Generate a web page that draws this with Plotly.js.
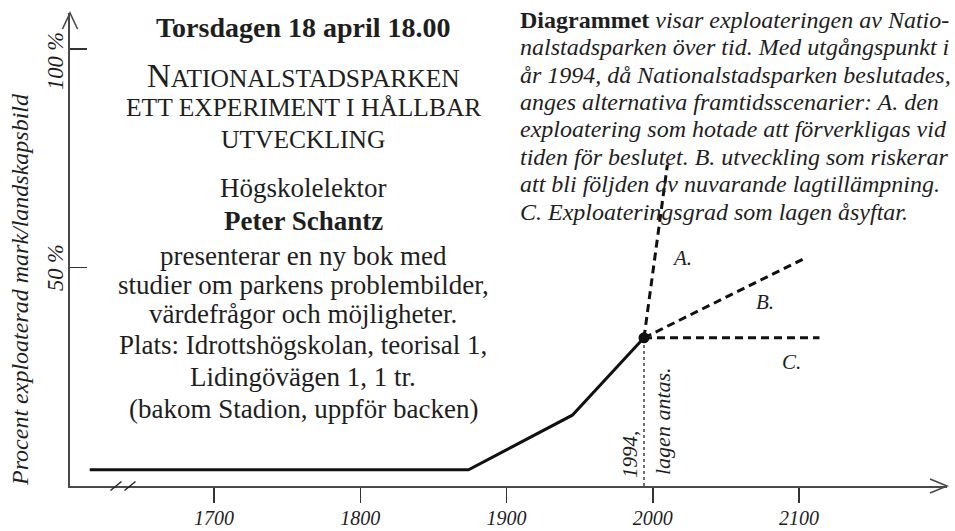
<!DOCTYPE html>
<html><head><meta charset="utf-8">
<script src="https://cdn.plot.ly/plotly-3.0.1.min.js"></script>
<style>html,body{margin:0;padding:0;background:#fff}</style>
</head><body><div id="chart" style="width:955px;height:531px"></div>
<script>
// ---- data ----
const histYears = [1615, 1874, 1945, 1994];
const histValues = [3.7, 3.7, 16.2, 33.9];
const scenA_years = [1994, 2010];
const scenA_values = [33.9, 73.5];
const scenB_years = [1994, 2104];
const scenB_values = [33.9, 52.1];
const scenC_years = [1994, 2114];
const scenC_values = [33.9, 33.9];
const decisionYears = [1994, 1994];
const decisionValues = [0, 33.9];
const dotYears = [1994];
const dotValues = [33.9];
const xTickVals = [1700, 1800, 1900, 2000, 2100];
const xTickText = ['1700', '1800', '1900', '2000', '2100'];
const yTickVals = [50, 100];
const yTickText = ['50 %', '100 %'];
const scenarioLabels = ['A.', 'B.', 'C.'];

// ---- geometry helpers (pixel -> paper) ----
const W = 955, H = 531, ML = 70, MR = 8, MT = 13, MB = 45;
const PW = W - ML - MR, PH = H - MT - MB;
const px = v => (v - ML) / PW;
const py = v => (H - MB - v) / PH;

const SERIF = '"Liberation Serif", "Times New Roman", serif';
const INK = '#1e1e1e';

const traces = [
  {x: histYears, y: histValues, mode: 'lines', line: {color: '#111', width: 3}, hoverinfo: 'skip'},
  {x: decisionYears, y: decisionValues, mode: 'lines', line: {color: '#111', width: 1.2, dash: 'dot'}, hoverinfo: 'skip'},
  {x: scenA_years, y: scenA_values, mode: 'lines', line: {color: '#111', width: 3, dash: '8px,5px'}, hoverinfo: 'skip'},
  {x: scenB_years, y: scenB_values, mode: 'lines', line: {color: '#111', width: 3, dash: '8px,5px'}, hoverinfo: 'skip'},
  {x: scenC_years, y: scenC_values, mode: 'lines', line: {color: '#111', width: 3, dash: '8px,5px'}, hoverinfo: 'skip'},
  {x: dotYears, y: dotValues, mode: 'markers', marker: {color: '#111', size: 11}, hoverinfo: 'skip'}
];

const ann = [];
function txt(text, xpx, basePx, size, opts) {
  opts = opts || {};
  ann.push(Object.assign({
    xref: 'paper', yref: 'paper', x: px(xpx), y: py(basePx - 0.34 * size),
    xanchor: 'center', yanchor: 'middle', showarrow: false, text: text,
    font: {family: SERIF, size: size, color: INK}
  }, opts));
}
function rot(text, xc, yc, size) {
  ann.push({xref: 'paper', yref: 'paper', x: px(xc), y: py(yc), xanchor: 'center', yanchor: 'middle',
    textangle: -90, showarrow: false, text: text,
    font: {family: SERIF, size: size, color: INK, style: 'italic'}});
}
// left block
const CX = 303;
txt('<b>Torsdagen 18 april 18.00</b>', CX, 37, 28);
txt('<span style="font-size:33px">N</span>ATIONALSTADSPARKEN', CX, 85, 25.5);
txt('ETT EXPERIMENT I HÅLLBAR', CX, 116, 25.5);
txt('UTVECKLING', CX, 148, 25.5);
txt('Högskolelektor', CX, 197, 27);
txt('<b>Peter Schantz</b>', CX, 230, 27);
txt('presenterar en ny bok med', CX, 265, 27);
txt('studier om parkens problembilder,', CX, 294, 27);
txt('värdefrågor och möjligheter.', CX, 323, 27);
txt('Plats: Idrottshögskolan, teorisal 1,', CX, 354, 27);
txt('Lidingövägen 1, 1 tr.', CX, 386, 27);
txt('(bakom Stadion, uppför backen)', CX, 418, 27);

// right block
const rightLines = [
  '<b>Diagrammet</b> <i>visar exploateringen av Natio-</i>',
  '<i>nalstadsparken över tid. Med utgångspunkt i</i>',
  '<i>år 1994, då Nationalstadsparken beslutades,</i>',
  '<i>anges alternativa framtidsscenarier: A. den</i>',
  '<i>exploatering som hotade att förverkligas vid</i>',
  '<i>tiden för beslutet. B. utveckling som riskerar</i>',
  '<i>att bli följden av nuvarande lagtillämpning.</i>',
  '<i>C. Exploateringsgrad som lagen åsyftar.</i>'
];
rightLines.forEach((t, i) => txt(t, 518, 28 + i * 27.4, 24, {xanchor: 'left'}));

// scenario labels (data coords)
const labelPos = [[2020, 52.2], [2077, 42.1], [2095, 28.4]];
scenarioLabels.forEach((t, i) => ann.push({
  xref: 'x', yref: 'y', x: labelPos[i][0], y: labelPos[i][1], xanchor: 'center', yanchor: 'middle',
  showarrow: false, text: t,
  font: {family: SERIF, size: 21, color: INK, style: 'italic'}
}));

// rotated texts
rot('1994,', 630, 455, 21);
rot('lagen antas.', 662, 421, 22);
rot('Procent exploaterad mark/landskapsbild', 20, 290, 24);
// y tick labels
const yTickCenters = [268, 61];
yTickText.forEach((t, i) => rot(t, 55, yTickCenters[i], 22.5));

const AX = '#4a4a4a';
const shapes = [
  {type: 'path', xref: 'paper', yref: 'paper', xsizemode: 'pixel', ysizemode: 'pixel', xanchor: 1, yanchor: 0,
   path: 'M -17,7 L 0,0 L -17,-7', line: {color: AX, width: 1.6}},
  {type: 'path', xref: 'paper', yref: 'paper', xsizemode: 'pixel', ysizemode: 'pixel', xanchor: 0, yanchor: 1,
   path: 'M -7.5,-16 L 0,0 L 7.5,-16', line: {color: AX, width: 1.6}},
  {type: 'path', xref: 'paper', yref: 'paper', xsizemode: 'pixel', ysizemode: 'pixel', xanchor: px(116), yanchor: 0,
   path: 'M -5.5,-4.5 L 5.5,4.5', line: {color: '#222', width: 1.4}},
  {type: 'path', xref: 'paper', yref: 'paper', xsizemode: 'pixel', ysizemode: 'pixel', xanchor: px(130), yanchor: 0,
   path: 'M -5.5,-4.5 L 5.5,4.5', line: {color: '#222', width: 1.4}}
];

const layout = {
  width: W, height: H, margin: {l: ML, r: MR, t: MT, b: MB},
  paper_bgcolor: '#fff', plot_bgcolor: '#fff', showlegend: false,
  xaxis: {range: [1601.5, 2201.2], showgrid: false, zeroline: false, showline: true, linecolor: AX, linewidth: 1.6,
    ticks: 'outside', ticklen: 15, tickwidth: 1.5, tickcolor: '#333', ticklabelstandoff: -2,
    tickvals: xTickVals, ticktext: xTickText,
    tickfont: {family: SERIF, size: 20, color: INK, style: 'italic'}},
  yaxis: {range: [0, 108.2], showgrid: false, zeroline: false, showline: true, linecolor: AX, linewidth: 1.6,
    ticks: 'inside', ticklen: 17, tickwidth: 1.5, tickcolor: '#333',
    tickvals: yTickVals, showticklabels: false},
  annotations: ann, shapes: shapes
};
Plotly.newPlot('chart', traces, layout, {displayModeBar: false, staticPlot: true});
</script></body></html>
